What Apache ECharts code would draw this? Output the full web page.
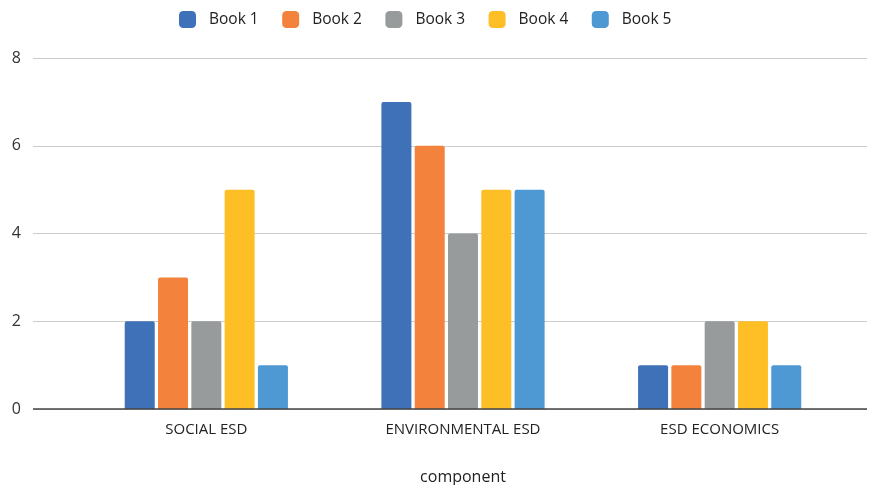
<!DOCTYPE html>
<html>
<head>
<meta charset="utf-8">
<script src="https://cdn.jsdelivr.net/npm/echarts@6/dist/echarts.min.js"></script>
<style>
  html, body { margin: 0; padding: 0; background: #fff; }
  #chart { width: 883px; height: 485px; }
</style>
</head>
<body>
<div id="chart"></div>
<script>
const categories = ['SOCIAL ESD', 'ENVIRONMENTAL ESD', 'ESD ECONOMICS'];
const seriesNames = ['Book 1', 'Book 2', 'Book 3', 'Book 4', 'Book 5'];
const book1 = [2, 7, 1];
const book2 = [3, 6, 1];
const book3 = [2, 4, 2];
const book4 = [5, 5, 2];
const book5 = [1, 5, 1];
const colors = ['#3E71B8', '#F2823C', '#989B9B', '#FEBE26', '#4E98D3'];

const values = [book1, book2, book3, book4, book5];
const font = '"Open Sans", sans-serif';

const myChart = echarts.init(document.getElementById('chart'));

// grid 0 only draws the full-width gridlines and the base line,
// grid 1 holds the bars (narrower, like the original plot)
myChart.setOption({
  animation: false,
  color: colors,
  legend: {
    top: 6,
    left: 174,
    itemWidth: 17,
    itemHeight: 17,
    itemGap: 23.5,
    icon: 'roundRect',
    textStyle: { fontFamily: font, fontSize: 15.5, color: '#222', padding: [0, 0, 0, 8] },
    data: seriesNames
  },
  grid: [
    { left: 33, right: 16, top: 58, bottom: 76, outerBoundsMode: 'none' },
    { left: 78, right: 35, top: 58, bottom: 76, outerBoundsMode: 'none' }
  ],
  xAxis: [
    {
      gridIndex: 0, type: 'value', min: 0, max: 1,
      axisLabel: { show: false }, axisTick: { show: false }, splitLine: { show: false },
      axisLine: { show: false }
    },
    {
      gridIndex: 1, type: 'category', data: categories,
      axisLine: { show: false }, axisTick: { show: false },
      axisLabel: { fontFamily: font, fontSize: 15, color: '#222', margin: 13 },
      name: 'component', nameLocation: 'middle', nameGap: 60,
      nameTextStyle: { fontFamily: font, fontSize: 16, color: '#222' }
    }
  ],
  yAxis: [
    {
      gridIndex: 0, type: 'value', min: 0, max: 8, interval: 2,
      axisLine: { show: false }, axisTick: { show: false },
      axisLabel: { fontFamily: font, fontSize: 16, color: '#333', margin: 12 },
      splitLine: { lineStyle: { color: '#cccccc', width: 1 } }
    },
    {
      gridIndex: 1, type: 'value', min: 0, max: 8, interval: 2,
      axisLine: { show: false }, axisTick: { show: false },
      axisLabel: { show: false }, splitLine: { show: false }
    }
  ],
  series: [
    {
      type: 'line', xAxisIndex: 0, yAxisIndex: 0, data: [],
      silent: true, symbol: 'none',
      markLine: {
        silent: true, symbol: 'none', label: { show: false },
        lineStyle: { color: '#444', width: 1.5, type: 'solid' },
        data: [{ yAxis: 0 }]
      }
    }
  ].concat(seriesNames.map((name, i) => ({
    name: name,
    type: 'bar',
    xAxisIndex: 1,
    yAxisIndex: 1,
    z: 1,
    barWidth: 30,
    barGap: '11%',
    itemStyle: { color: colors[i], borderRadius: [2, 2, 0, 0] },
    data: values[i]
  })))
});
</script>
</body>
</html>
